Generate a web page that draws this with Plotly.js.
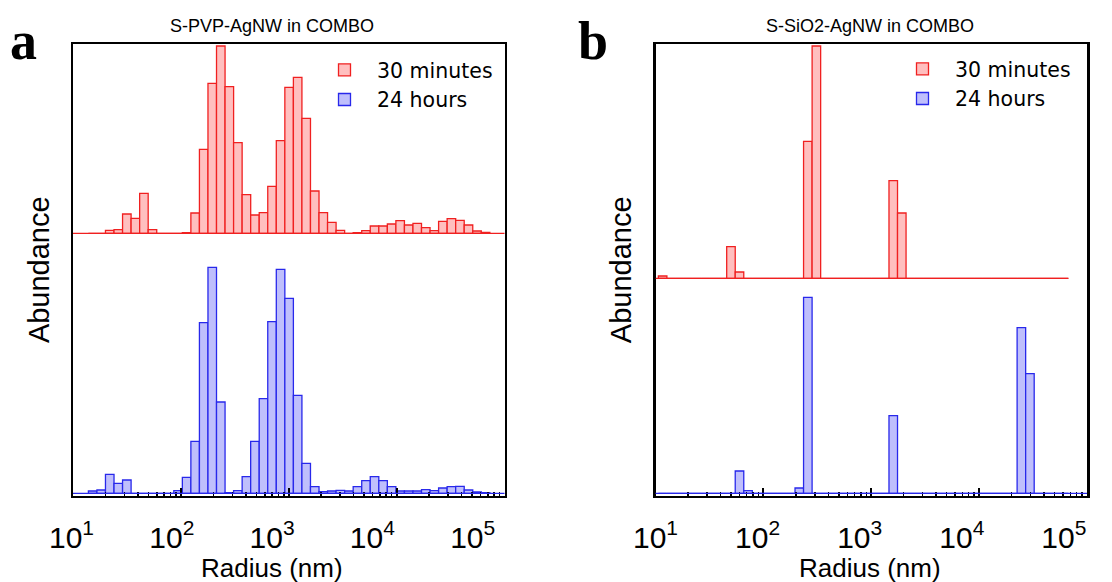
<!DOCTYPE html>
<html><head><meta charset="utf-8">
<script src="https://cdn.plot.ly/plotly-3.0.1.min.js"></script>
<style>html,body{margin:0;padding:0;background:#fff}#chart{width:1112px;height:582px}</style>
</head><body><div id="chart"></div>
<script>
// ---------- data ----------
// Histogram bins: left edge of each bin (radius, nm); each bin spans edge .. edge*binRatio
const binRatio = 1.2;
const binsA = [13.89, 16.67, 20.0, 24.0, 28.8, 34.56, 41.47, 49.77, 59.72, 71.66, 86.0, 103.2, 123.8, 148.6, 178.3, 214.0, 256.8, 308.1, 369.8, 443.7, 532.5, 638.9, 766.7, 920.1, 1104, 1325, 1590, 1908, 2289, 2747, 3297, 3956, 4747, 5696, 6836, 8203, 9844, 11812, 14175, 17010, 20412, 24494, 29393, 35272, 42326, 50791, 60950];
// S-PVP-AgNW in COMBO (abundance, arbitrary units)
const pvp30min = [0, 0, 3, 3.7, 19.3, 15, 40, 3.7, 0, 0, 0, 0.7, 20.3, 84, 150, 187.3, 146.7, 90.7, 38.7, 18.3, 20.7, 47, 92.7, 146, 156, 115, 42.3, 20.7, 11, 3, 0, 0.7, 2.7, 7.3, 7.3, 9.3, 12.7, 8.3, 10, 5.7, 2.7, 12, 14.7, 13, 8.3, 2.3, 1];
const pvp24h = [2.3, 3.3, 19, 10, 13.3, 0, 0, 0, 0, 0, 2.7, 16, 52, 170.7, 226, 91.3, 0.7, 2.7, 16.7, 52, 94.7, 171.7, 224, 195, 98, 30, 6.7, 1.7, 2.3, 3, 2.3, 6.7, 12.7, 16.7, 12.7, 6.7, 2.3, 2.3, 2.3, 3.7, 2.7, 5.3, 6.7, 7, 3.3, 1.3, 0.7];

const binsB = [10.63, 12.75, 15.30, 18.37, 22.04, 26.45, 31.74, 38.08, 45.7, 54.84, 65.81, 78.97, 94.76, 113.7, 136.5, 163.8, 196.5, 235.8, 283.0, 339.6, 407.5, 489.0, 586.8, 704.2, 845.0, 1014, 1217, 1460, 1752, 2103, 2523, 3028, 3633, 4360, 5232, 6278, 7534, 9041, 10849, 13019, 15622, 18747, 22496, 26995, 32394, 38873, 46648, 55978];
// S-SiO2-AgNW in COMBO
const sio30min = [2.3, 0, 0, 0, 0, 0, 0, 0, 31.7, 6.3, 0, 0, 0, 0, 0, 0, 0, 137, 232.3, 0, 0, 0, 0, 0, 0, 0, 0, 97.7, 65.3, 0, 0, 0, 0, 0, 0, 0, 0, 0, 0, 0, 0, 0, 0, 0, 0, 0, 0, 0];
const sio24h = [0, 0, 0, 0, 0, 0, 0, 0, 0, 22.3, 2.7, 0, 0, 0, 0, 0, 5.3, 196, 0, 0, 0, 0, 0, 0, 0, 0, 0, 77.7, 0, 0, 0, 0, 0, 0, 0, 0, 0, 0, 0, 0, 0, 0, 165.7, 119.7, 0, 0, 0, 0];

const seriesNames = ['30 minutes', '24 hours'];
const panelTitles = ['S-PVP-AgNW in COMBO', 'S-SiO2-AgNW in COMBO'];
const panelLetters = ['a', 'b'];
const tickVals = [10, 100, 1000, 10000, 100000];
const tickText = ['10<sup>1</sup>', '10<sup>2</sup>', '10<sup>3</sup>', '10<sup>4</sup>', '10<sup>5</sup>'];
const xTitle = 'Radius (nm)';
const yTitle = 'Abundance';

// ---------- styling ----------
const RED = {fill: 'rgb(255,191,191)', line: 'rgb(240,32,32)'};
const BLUE = {fill: 'rgb(191,191,252)', line: 'rgb(40,40,235)'};
const W = 1112, H = 582;
const px = v => v / W, py = v => (H - v) / H;
const SANS = 'Liberation Sans, Arial, sans-serif';

function barTrace(bins, vals, col, name, xa, ya, leg) {
  return {
    type: 'bar', x: bins, y: vals,
    width: bins.map(e => e * (binRatio - 1)), offset: 0,
    xaxis: xa, yaxis: ya, name: name, legend: leg,
    marker: {color: col.fill, line: {color: col.line, width: 1.3}},
    hoverinfo: 'skip'
  };
}

const data = [
  // empty carriers first so the tick-label axes get drawn (beneath everything)
  {type: 'scatter', x: [], y: [], xaxis: 'x3', yaxis: 'y', showlegend: false, hoverinfo: 'skip'},
  {type: 'scatter', x: [], y: [], xaxis: 'x4', yaxis: 'y3', showlegend: false, hoverinfo: 'skip'},
  barTrace(binsA, pvp30min, RED, seriesNames[0], 'x', 'y2', 'legend'),
  barTrace(binsA, pvp24h, BLUE, seriesNames[1], 'x', 'y', 'legend'),
  barTrace(binsB, sio30min, RED, seriesNames[0], 'x2', 'y4', 'legend2'),
  barTrace(binsB, sio24h, BLUE, seriesNames[1], 'x2', 'y3', 'legend2')
];

const yDom = [py(495.5), py(44)];
const domA = [px(73), px(504.5)];
const domB = [px(655.5), px(1087)];

function mainX(dom, anchor) {
  return {
    type: 'log', domain: dom, range: [1, 5], anchor: anchor,
    showline: true, mirror: true, linecolor: 'black', linewidth: 2.5,
    ticks: 'inside', ticklen: 8, tickwidth: 2, tickcolor: 'black',
    dtick: 1, showticklabels: false, showgrid: false, zeroline: false,
    minor: {ticks: 'inside', ticklen: 4, tickwidth: 1.5, tickcolor: 'black', dtick: 'D1', showgrid: false}
  };
}
// label axes: ticks sit under the decades as placed in the original figure
function labelX(dom, first, decade) {
  const d0 = dom[0] * W, d1 = dom[1] * W;
  return {
    type: 'log', domain: dom, range: [1 - (first - d0) / decade, 1 + (d1 - first) / decade],
    anchor: 'free', position: py(517),
    showline: false, ticks: '', showgrid: false, zeroline: false,
    tickmode: 'array', tickvals: tickVals, ticktext: tickText,
    tickfont: {family: SANS, size: 30, color: 'black'}
  };
}
function lowY(anchor) {
  return {
    domain: yDom, range: [-2.2, 449.3], anchor: anchor,
    showline: true, mirror: true, linecolor: 'black', linewidth: 2.5,
    ticks: '', showticklabels: false, showgrid: false, zeroline: false,
    title: {text: yTitle, font: {family: SANS, size: 29, color: 'black'}, standoff: 13}
  };
}
function highY(over, anchor, range) {
  return {
    domain: yDom, range: range, anchor: anchor, overlaying: over,
    showline: false, ticks: '', showticklabels: false, showgrid: false, zeroline: false
  };
}

const legendBase = {
  xanchor: 'left', yanchor: 'top', bgcolor: 'rgba(0,0,0,0)', borderwidth: 0, itemwidth: 55,
  font: {family: 'DejaVu Sans, sans-serif', size: 20.5, color: 'black'}, traceorder: 'normal'
};

const ann = [];
[[272, 0], [870, 1]].forEach(([cx, i]) => {
  ann.push({text: panelTitles[i], xref: 'paper', yref: 'paper', x: px(cx), y: py(26.5),
    xanchor: 'center', yanchor: 'middle', showarrow: false,
    font: {family: SANS, size: 18, color: 'black'}});
});
[[23.5, 0], [592.5, 1]].forEach(([cx, i]) => {
  ann.push({text: panelLetters[i], xref: 'paper', yref: 'paper', x: px(cx), y: py(41),
    xanchor: 'center', yanchor: 'middle', showarrow: false,
    font: {family: 'Liberation Serif, Times New Roman, serif', size: 54, weight: 'bold', color: 'black'}});
});
[272, 870].forEach(cx => {
  ann.push({text: xTitle, xref: 'paper', yref: 'paper', x: px(cx), y: py(567.5),
    xanchor: 'center', yanchor: 'middle', showarrow: false, borderpad: 0,
    font: {family: SANS, size: 26, color: 'black'}});
});

const lastEdgeB = binsB[binsB.length - 1] * binRatio;
const shapes = [
  {type: 'line', xref: 'x domain', yref: 'y2', x0: 0, x1: 1, y0: 0, y1: 0, line: {color: RED.line, width: 1.3}},
  {type: 'line', xref: 'x domain', yref: 'y', x0: 0, x1: 1, y0: 0, y1: 0, line: {color: BLUE.line, width: 1.3}},
  {type: 'line', xref: 'x2', yref: 'y4', x0: 10, x1: lastEdgeB, y0: 0, y1: 0, line: {color: RED.line, width: 1.3}},
  {type: 'line', xref: 'x2 domain', yref: 'y3', x0: 0, x1: 1, y0: 0, y1: 0, line: {color: BLUE.line, width: 1.3}}
];

const layout = {
  width: W, height: H, margin: {l: 0, r: 0, t: 0, b: 0},
  paper_bgcolor: 'white', plot_bgcolor: 'rgba(0,0,0,0)',
  barmode: 'overlay', hovermode: false,
  xaxis: mainX(domA, 'y'),
  xaxis2: mainX(domB, 'y3'),
  xaxis3: labelX([px(47), px(503)], 71.5, 100.3),
  xaxis4: labelX([px(640), px(1100)], 655.5, 102.1),
  yaxis: lowY('x'),
  yaxis2: highY('y', 'x', [-262.2, 189.3]),
  yaxis3: lowY('x2'),
  yaxis4: highY('y3', 'x2', [-217.2, 234.3]),
  legend: Object.assign({x: px(312), y: py(50)}, legendBase),
  legend2: Object.assign({x: px(890), y: py(49)}, legendBase),
  annotations: ann,
  shapes: shapes
};

Plotly.newPlot('chart', data, layout, {staticPlot: true, displayModeBar: false});
</script>
</body></html>
